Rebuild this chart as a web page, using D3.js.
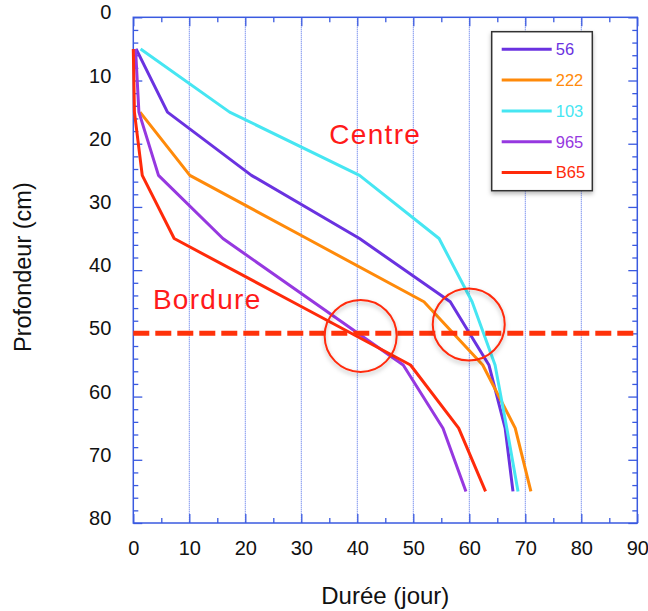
<!DOCTYPE html>
<html>
<head>
<meta charset="utf-8">
<script src="https://cdn.jsdelivr.net/npm/d3@7"></script>
<style>
  body { margin: 0; background: #fff; }
  svg { display: block; }
  text { font-family: "Liberation Sans", Arial, Helvetica, sans-serif; }
</style>
</head>
<body>
<svg id="chart" width="648" height="611"></svg>
<script>
// ---- data ----
const depths = [5, 15, 25, 35, 45, 55, 65, 75];
const seriesNames = ["56", "222", "103", "965", "B65"];
const s56  = [0.5, 6.1, 21.1, 40.4, 56.6, 63.5, 66.4, 67.8];
const s222 = [null, 1.2, 10.1, 31.0, 51.9, 62.4, 68.2, 71.0];
const s103 = [1.3, 17.2, 40.4, 54.6, 60.5, 64.6, 66.7, 68.7];
const s965 = [0.4, 1.0, 4.5, 16.0, 32.1, 48.2, 55.3, 59.4];
const sB65 = [0.0, 0.2, 1.6, 7.3, 28.4, 49.5, 58.1, 62.9];
const xTicks = [0, 10, 20, 30, 40, 50, 60, 70, 80, 90];
const yTicks = [0, 10, 20, 30, 40, 50, 60, 70, 80];
const limitDepth = 50;
const circleCenters = [[40.6, 50.4], [59.9, 48.6]];
const annotations = [
  { text: "Centre", x: 35.0, y: 20.0 },
  { text: "Bordure", x: 3.5, y: 46.2 }
];

const seriesValues = [s56, s222, s103, s965, sB65];
const colors = ["#6a32e0", "#ff8a0a", "#46e6f2", "#9638e0", "#ff2a0a"];

// ---- layout ----
const svg = d3.select("#chart");
const L = 133.3, T = 17.3, W = 504, H = 505.7;
const x = d3.scaleLinear().domain([0, 90]).range([L, L + W]);
const y = d3.scaleLinear().domain([0, 80]).range([T, T + H]);
const axisColor = "#3a5ae0";

const defs = svg.append("defs");
const f = defs.append("filter").attr("id", "shadow").attr("x", "-30%").attr("y", "-30%").attr("width", "160%").attr("height", "160%");
f.append("feDropShadow").attr("dx", 0).attr("dy", 2.5).attr("stdDeviation", 2).attr("flood-color", "#000").attr("flood-opacity", 0.28);

// gridlines (vertical dotted)
svg.append("g").selectAll("line").data(xTicks.filter(d => d > 0 && d < 90)).join("line")
  .attr("x1", d => x(d)).attr("x2", d => x(d))
  .attr("y1", T).attr("y2", T + H)
  .attr("stroke", "#4a68e8").attr("stroke-width", 1)
  .attr("stroke-dasharray", "1,1");

// axes with inward ticks
const minorY = d3.range(0, 81, 2).filter(d => d % 10 !== 0);
const minorX = d3.range(5, 90, 10);

function styleAxis(g) {
  g.select(".domain").remove();
  g.selectAll("line").attr("stroke", axisColor).attr("stroke-width", 1.3);
}
// left major
svg.append("g").attr("transform", `translate(${L},0)`)
  .call(d3.axisLeft(y).tickValues(yTicks).tickSizeInner(-9).tickSizeOuter(0).tickPadding(22))
  .call(styleAxis)
  .call(g => g.selectAll("text").attr("font-size", 20).attr("fill", "#111").attr("dy", "0.08em"));
svg.append("g").attr("transform", `translate(${L},0)`)
  .call(d3.axisLeft(y).tickValues(minorY).tickSizeInner(-5).tickSizeOuter(0).tickFormat(""))
  .call(styleAxis);
// right
svg.append("g").attr("transform", `translate(${L + W},0)`)
  .call(d3.axisRight(y).tickValues(yTicks).tickSizeInner(-9).tickSizeOuter(0).tickFormat(""))
  .call(styleAxis);
svg.append("g").attr("transform", `translate(${L + W},0)`)
  .call(d3.axisRight(y).tickValues(minorY).tickSizeInner(-5).tickSizeOuter(0).tickFormat(""))
  .call(styleAxis);
// bottom
svg.append("g").attr("transform", `translate(0,${T + H})`)
  .call(d3.axisBottom(x).tickValues(xTicks).tickSizeInner(-9).tickSizeOuter(0).tickPadding(18))
  .call(styleAxis)
  .call(g => g.selectAll("text").attr("font-size", 20).attr("fill", "#111"));
svg.append("g").attr("transform", `translate(0,${T + H})`)
  .call(d3.axisBottom(x).tickValues(minorX).tickSizeInner(-5).tickSizeOuter(0).tickFormat(""))
  .call(styleAxis);
// top
svg.append("g").attr("transform", `translate(0,${T})`)
  .call(d3.axisTop(x).tickValues(xTicks).tickSizeInner(-9).tickSizeOuter(0).tickFormat(""))
  .call(styleAxis);
svg.append("g").attr("transform", `translate(0,${T})`)
  .call(d3.axisTop(x).tickValues(minorX).tickSizeInner(-5).tickSizeOuter(0).tickFormat(""))
  .call(styleAxis);

// frame
svg.append("rect").attr("x", L).attr("y", T).attr("width", W).attr("height", H)
  .attr("fill", "none").attr("stroke", axisColor).attr("stroke-width", 1.5);

// series lines
const line = d3.line()
  .defined(d => d[0] !== null)
  .x(d => x(d[0])).y(d => y(d[1]));
seriesValues.forEach((vals, i) => {
  const pts = vals.map((v, j) => [v, depths[j]]);
  svg.append("path").datum(pts)
    .attr("d", line)
    .attr("fill", "none")
    .attr("stroke", colors[i])
    .attr("stroke-width", 3)
    .attr("stroke-linejoin", "round");
});

// dashed limit line
svg.append("line")
  .attr("x1", x(0)).attr("x2", x(90))
  .attr("y1", y(limitDepth)).attr("y2", y(limitDepth))
  .attr("stroke", "#ff320a").attr("stroke-width", 5)
  .attr("stroke-dasharray", "16,6");

// circles
svg.append("g").selectAll("circle").data(circleCenters).join("circle")
  .attr("cx", d => x(d[0])).attr("cy", d => y(d[1]))
  .attr("r", 36)
  .attr("fill", "none")
  .attr("stroke", "#ff2a0a").attr("stroke-width", 2)
  .attr("filter", "url(#shadow)");

// annotations
svg.append("g").selectAll("text").data(annotations).join("text")
  .attr("x", d => x(d.x)).attr("y", d => y(d.y))
  .attr("font-family", "'Comic Sans MS', Lato, sans-serif")
  .attr("font-size", 28)
  .attr("letter-spacing", 1.3)
  .attr("fill", "#ff1a1a")
  .text(d => d.text);

// legend
const lg = svg.append("g").attr("transform", "translate(491.7,31.7)");
lg.append("rect").attr("width", 100.6).attr("height", 159)
  .attr("fill", "#fff").attr("stroke", "#333").attr("stroke-width", 1.5)
  .attr("filter", "url(#shadow)");
seriesNames.forEach((name, i) => {
  const yy = 17.6 + i * 30.8;
  lg.append("line").attr("x1", 10).attr("x2", 60).attr("y1", yy).attr("y2", yy)
    .attr("stroke", colors[i]).attr("stroke-width", 3);
  lg.append("text").attr("x", 64).attr("y", yy).attr("dy", "0.36em")
    .attr("font-size", 16.5).attr("fill", colors[i]).text(name);
});

// axis titles
svg.append("text")
  .attr("x", x(45)).attr("y", 604)
  .attr("text-anchor", "middle").attr("font-size", 24).attr("fill", "#111")
  .text("Durée (jour)");
svg.append("text")
  .attr("transform", `translate(31,${y(40) - 3}) rotate(-90)`)
  .attr("text-anchor", "middle").attr("font-size", 23.5).attr("fill", "#111")
  .text("Profondeur (cm)");
</script>
</body>
</html>
